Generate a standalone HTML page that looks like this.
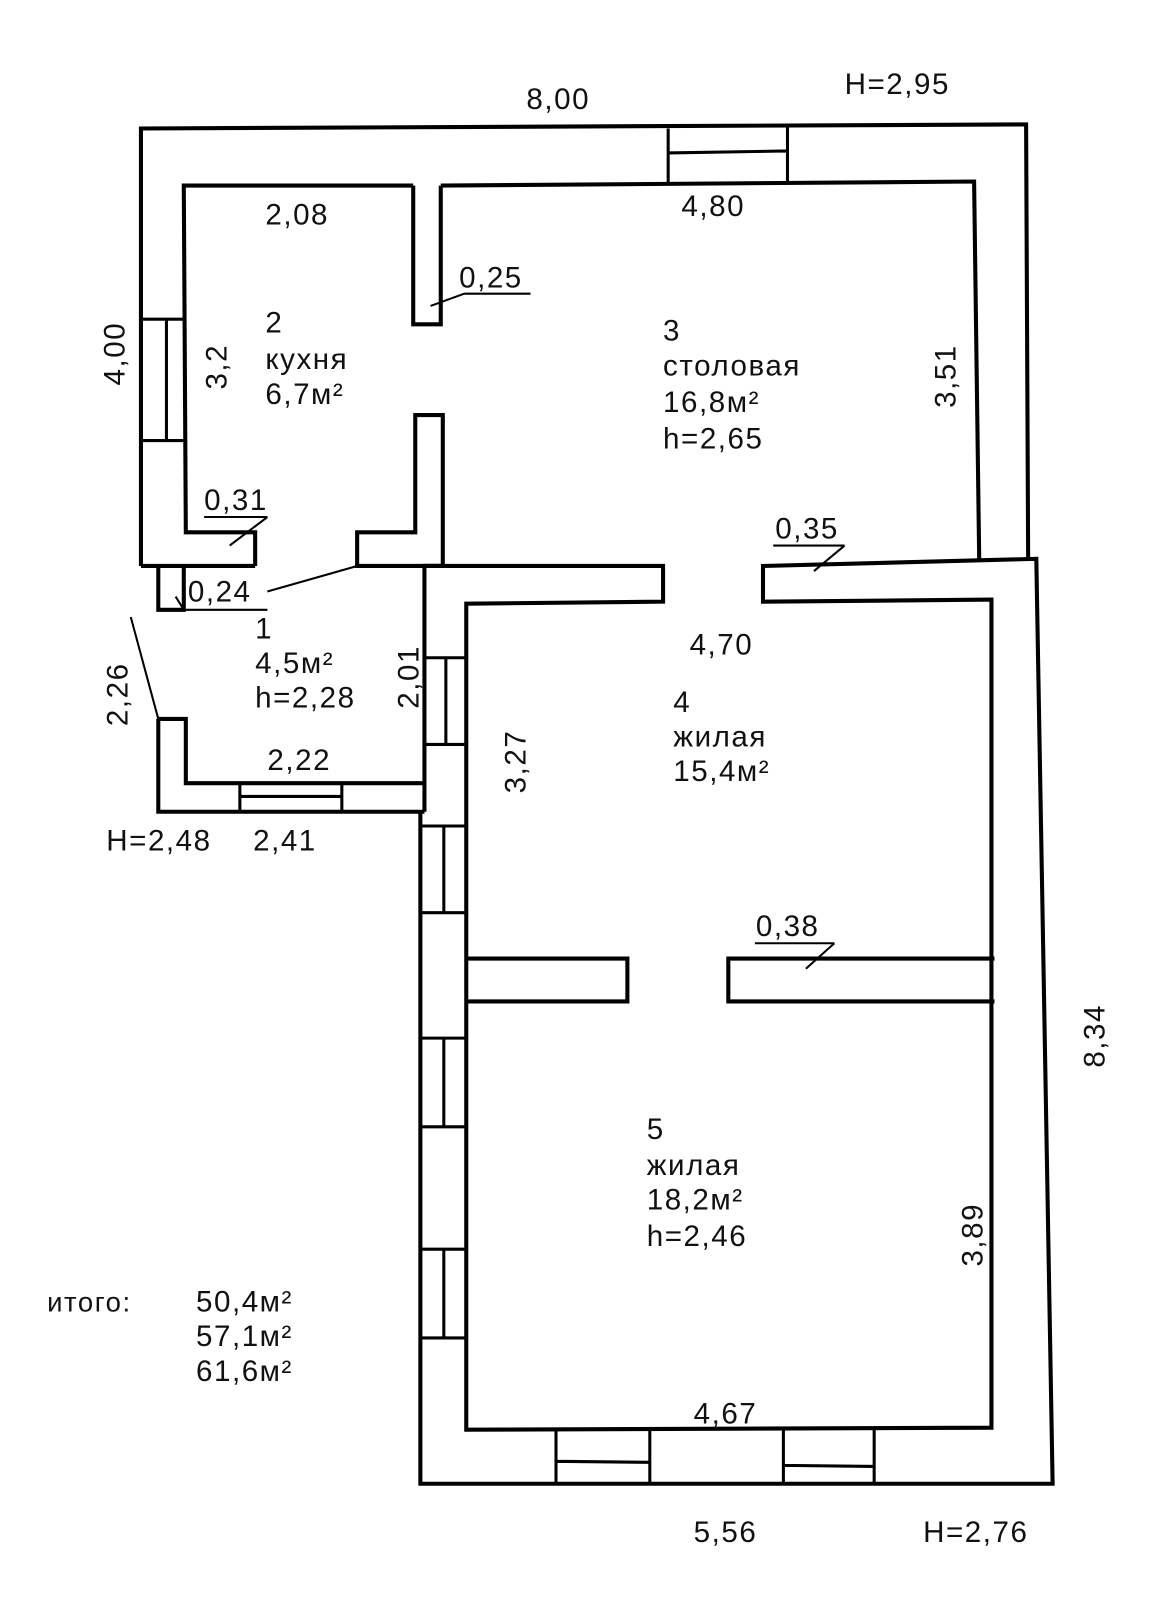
<!DOCTYPE html>
<html><head><meta charset="utf-8"><style>
html,body{margin:0;padding:0;background:#fff;}
svg{display:block}
text{font-family:"Liberation Sans","DejaVu Sans",sans-serif;font-size:29px;fill:#111;letter-spacing:1.5px}
</style></head><body>
<svg width="1164" height="1600" viewBox="0 0 1141 1569" xmlns="http://www.w3.org/2000/svg">
<g fill="none" stroke="#000" stroke-width="4" stroke-linejoin="miter">
<path d="M138,555 L138,126 L1006,122 L1008,548"/>
<path d="M250,555 L250,522 L182,522 L180,182 L405,182"/>
<path d="M432,182 L955,178 L960,548"/>
<path d="M405,182 L405,318 L432,318 L432,182"/>
<path d="M407,407 L434,407 L434,555 L350,555 L350,522 L407,522 Z"/>
<path d="M138,555 L250,555"/>
<path d="M155,555 L155,598 L180,598 L180,555"/>
<path d="M138,313 L182,313 M138,432 L182,432 M163,313 L163,432" stroke-width="3"/>
<path d="M655,126 L655,180 M772,124 L772,178 M655,150 L772,148" stroke-width="3"/>
<path d="M434,555 L416,555 L416,796"/>
<path d="M416,555 L650,555 L650,590 L457,592 L457,1402 L972,1400 L972,588 L748,590 L748,555 L1016,548 L1032,1455 L412,1455 L412,796"/>
<path d="M416,645 L457,645 M416,730 L457,730 M437,645 L437,730" stroke-width="3"/>
<path d="M412,810 L457,810 M412,895 L457,895 M435,810 L435,895" stroke-width="3"/>
<path d="M412,1018 L457,1018 M412,1105 L457,1105 M435,1018 L435,1105" stroke-width="3"/>
<path d="M412,1225 L457,1225 M412,1312 L457,1312 M435,1225 L435,1312" stroke-width="3"/>
<path d="M457,940 L615,940 L615,982 L457,982"/>
<path d="M975,940 L714,940 L714,982 L975,982"/>
<path d="M545,1402 L545,1455 M637,1402 L637,1455 M545,1433 L637,1434" stroke-width="3"/>
<path d="M768,1402 L768,1455 M857,1402 L857,1455 M768,1437 L857,1438" stroke-width="3"/>
<path d="M155,705 L182,705 L182,768 L416,768 M155,705 L155,796 L416,796"/>
<path d="M235,768 L235,796 M335,768 L335,796 M235,781 L335,781" stroke-width="3"/>
</g>
<g fill="none" stroke="#000" stroke-width="2">
<path d="M128,605 L155,705"/>
<path d="M455,288 L520,288 M422,300 L455,288"/>
<path d="M200,507 L262,507 M225,535 L262,507"/>
<path d="M262,580 L350,555 M180,598 L262,598 M172,585 L180,598"/>
<path d="M758,535 L828,535 M798,560 L828,535"/>
<path d="M740,925 L818,925 M790,950 L818,925"/>
</g>
<g>
<text x="516" y="107">8,00</text>
<text x="828" y="92">H=2,95</text>
<text x="260" y="220">2,08</text>
<text x="668" y="212">4,80</text>
<text x="450" y="282">0,25</text>
<text x="260" y="326">2</text>
<text x="260" y="362">кухня</text>
<text x="260" y="396">6,7м²</text>
<text x="650" y="334">3</text>
<text x="650" y="368">столовая</text>
<text x="650" y="404">16,8м²</text>
<text x="650" y="440">h=2,65</text>
<text x="200" y="500">0,31</text>
<text x="184" y="590">0,24</text>
<text x="760" y="528">0,35</text>
<text x="250" y="626">1</text>
<text x="250" y="660">4,5м²</text>
<text x="250" y="694">h=2,28</text>
<text x="676" y="642">4,70</text>
<text x="660" y="698">4</text>
<text x="660" y="732">жилая</text>
<text x="660" y="766">15,4м²</text>
<text x="262" y="755">2,22</text>
<text x="104" y="834">H=2,48</text>
<text x="248" y="834">2,41</text>
<text x="741" y="918">0,38</text>
<text x="634" y="1117">5</text>
<text x="634" y="1152">жилая</text>
<text x="634" y="1186">18,2м²</text>
<text x="634" y="1222">h=2,46</text>
<text x="46" y="1286" style="font-size:27px">итого:</text>
<text x="192" y="1286">50,4м²</text>
<text x="192" y="1320">57,1м²</text>
<text x="192" y="1354">61,6м²</text>
<text x="680" y="1396">4,67</text>
<text x="680" y="1512">5,56</text>
<text x="905" y="1512">H=2,76</text>
<text transform="translate(122,378) rotate(-90)">4,00</text>
<text transform="translate(222,382) rotate(-90)">3,2</text>
<text transform="translate(937,400) rotate(-90)">3,51</text>
<text transform="translate(125,712) rotate(-90)">2,26</text>
<text transform="translate(410,695) rotate(-90)">2,01</text>
<text transform="translate(515,778) rotate(-90)">3,27</text>
<text transform="translate(1083,1047) rotate(-90)">8,34</text>
<text transform="translate(963,1242) rotate(-90)">3,89</text>
</g>
</svg>
</body></html>
